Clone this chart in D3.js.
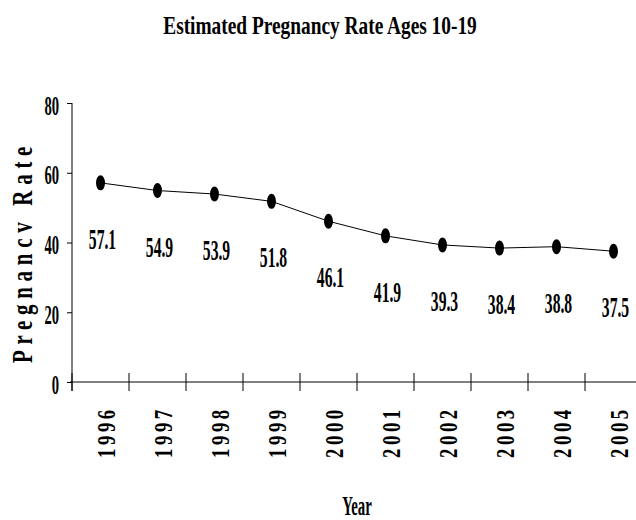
<!DOCTYPE html>
<html>
<head>
<meta charset="utf-8">
<script src="https://cdn.jsdelivr.net/npm/d3@7"></script>
<style>
	body { margin: 0; background: #fff; }
	text { font-family: "Liberation Serif", "Times New Roman", serif; font-weight: bold; fill: #000; }
</style>
</head>
<body>
<div id="plot"></div>
<script>
var years = ["1996", "1997", "1998", "1999", "2000", "2001", "2002", "2003", "2004", "2005"];
var rates = [57.1, 54.9, 53.9, 51.8, 46.1, 41.9, 39.3, 38.4, 38.8, 37.5];
var yTicks = [0, 20, 40, 60, 80];

function chart(){
	var width = 636, height = 520;
	var left = 72, right = 642, top = 103, bottom = 382;

	var svg = d3.select("#plot").append("svg")
		.attr("width", width)
		.attr("height", height);

	var xAxis = d3.scaleBand().domain(years).range([left, right]).padding(0);
	var yAxis = d3.scaleLinear().domain([0, 80]).range([bottom, top]);

	var data = years.map(function(d, i){ return {year: d, value: rates[i]}; });

	// title
	svg.append("text")
		.attr("transform", "translate(320,34) scale(0.745,1)")
		.attr("text-anchor", "middle")
		.style("font-size", "26px")
		.text("Estimated Pregnancy Rate Ages 10-19");

	// y axis
	var gy = svg.append("g")
		.attr("transform", "translate(" + left + ",0)")
		.call(d3.axisLeft(yAxis).tickValues(yTicks).tickSize(5).tickSizeOuter(0));
	gy.select(".domain").remove();
	gy.selectAll("line").attr("stroke", "#000");
	gy.selectAll("text")
		.attr("x", null).attr("dy", null)
		.attr("transform", "translate(-13,11) scale(0.54,1)")
		.attr("text-anchor", "end")
		.style("font-size", "27px");
	gy.attr("font-family", null).attr("font-size", null);
	svg.append("line")
		.attr("x1", left).attr("x2", left)
		.attr("y1", top).attr("y2", bottom + 9)
		.attr("stroke", "#000");

	// x axis with ticks at band edges
	svg.append("line")
		.attr("x1", left - 2).attr("x2", right)
		.attr("y1", bottom).attr("y2", bottom)
		.attr("stroke", "#000");
	var edges = years.map(function(d){ return xAxis(d); }).concat([right]);
	svg.append("g")
		.selectAll("line")
		.data(edges)
		.enter().append("line")
		.attr("x1", function(d){ return d; })
		.attr("x2", function(d){ return d; })
		.attr("y1", bottom - 9)
		.attr("y2", bottom + 9)
		.attr("stroke", "#000");

	svg.append("g")
		.selectAll("text")
		.data(years)
		.enter().append("text")
		.attr("transform", function(d){
			return "translate(" + (xAxis(d) + xAxis.bandwidth() / 2 + 14) + ",458) rotate(-90) scale(0.72,1)";
		})
		.attr("text-anchor", "start")
		.style("font-size", "26px")
		.style("letter-spacing", "5px")
		.text(function(d){ return d; });

	// axis titles
	svg.append("text")
		.attr("transform", "translate(32,252) rotate(-90) scale(0.72,1)")
		.attr("text-anchor", "middle")
		.style("font-size", "29px")
		.style("letter-spacing", "8px")
		.text("Pregnancv Rate");

	svg.append("text")
		.attr("transform", "translate(357,515) scale(0.55,1)")
		.attr("text-anchor", "middle")
		.style("font-size", "27px")
		.text("Year");

	// line and markers
	var line = d3.line()
		.x(function(d){ return xAxis(d.year) + xAxis.bandwidth() / 2; })
		.y(function(d){ return yAxis(d.value); });

	svg.append("path")
		.datum(data)
		.attr("d", line)
		.attr("fill", "none")
		.attr("stroke", "#000")
		.attr("stroke-width", 1);

	svg.append("g")
		.selectAll("ellipse")
		.data(data)
		.enter().append("ellipse")
		.attr("cx", function(d){ return xAxis(d.year) + xAxis.bandwidth() / 2; })
		.attr("cy", function(d){ return yAxis(d.value); })
		.attr("rx", 4.5)
		.attr("ry", 7.5)
		.attr("fill", "#000");

	svg.append("g")
		.selectAll("text")
		.data(data)
		.enter().append("text")
		.attr("transform", function(d){
			return "translate(" + (xAxis(d.year) + xAxis.bandwidth() / 2 + 2) + "," + (yAxis(d.value) + 66) + ") scale(0.54,1)";
		})
		.attr("text-anchor", "middle")
		.style("font-size", "29px")
		.text(function(d){ return d.value.toFixed(1); });
}

chart();
</script>
</body>
</html>
